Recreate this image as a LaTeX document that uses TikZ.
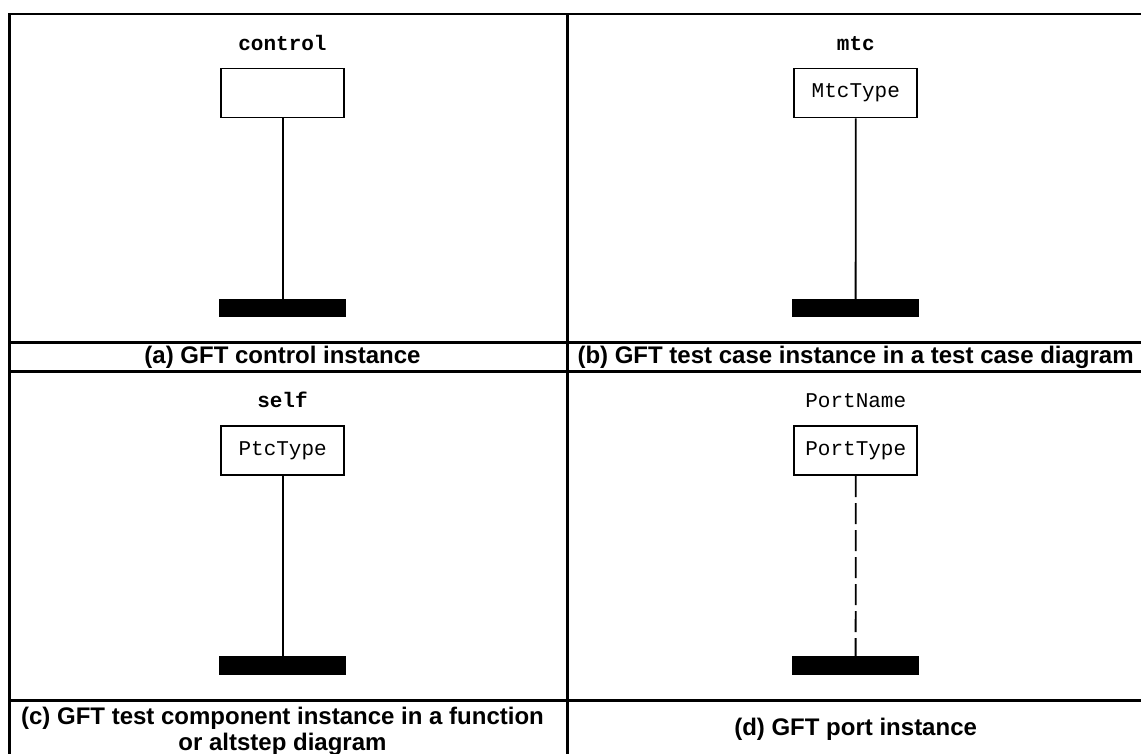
\documentclass[tikz,border=0pt]{standalone}
\usepackage{fontspec}
\setmainfont{Liberation Sans}
\newfontfamily\monof{Liberation Mono}
\begin{document}
\begin{tikzpicture}[x=1pt,y=-1pt,
  frame/.style={line width=2.5pt},
  instbox/.style={draw, line width=1.8pt, minimum width=123pt, minimum height=49pt, inner sep=0pt, font=\monof\fontsize{21}{24}\selectfont},
  endbar/.style={fill=black, minimum width=126.7pt, minimum height=18.3pt, inner sep=0pt},
  lifeline/.style={line width=1.8pt},
  portline/.style={line width=1.8pt, dash pattern=on 21pt off 6pt},
  instname/.style={anchor=base, inner sep=0pt, font=\monof\bfseries\fontsize{21}{24}\selectfont},
  portname/.style={anchor=base, inner sep=0pt, font=\monof\fontsize{21}{24}\selectfont},
  caption/.style={font=\bfseries\fontsize{24}{26}\selectfont, align=center, inner sep=0pt}]
\clip (0,0) rectangle (1141,753);
% table frame
\draw[frame] (9.5,800) -- (9.5,14) -- (1200,14);
\draw[frame] (567.7,14) -- (567.7,800);
\draw[frame] (9.5,342.7) -- (1200,342.7);
\draw[frame] (9.5,371.3) -- (1200,371.3);
\draw[frame] (9.5,700.7) -- (1200,700.7);
% (a) control
\node[instname] (nA) at (282.5,50) {control};
\node[instbox] (bA) at (282.7,93) {};
\node[endbar] (eA) at (282.7,308.2) {};
\draw[lifeline] (bA.south) -- (eA.north);
\node[caption] (cA) at (282.5,357) {(a) GFT control instance};
% (b) mtc
\node[instname] (nB) at (855.8,50) {mtc};
\node[instbox] (bB) at (855.8,93) {MtcType};
\node[endbar] (eB) at (855.6,308.2) {};
\draw[lifeline] (bB.south) -- (eB.north);
\node[caption] (cB) at (855.6,357) {(b) GFT test case instance in a test case diagram};
% (c) self
\node[instname] (nC) at (282.5,407) {self};
\node[instbox] (bC) at (282.7,450.8) {PtcType};
\node[endbar] (eC) at (282.7,665.5) {};
\draw[lifeline] (bC.south) -- (eC.north);
\node[caption] (cC) at (282.5,731) {(c) GFT test component instance in a function\\or altstep diagram};
% (d) port
\node[portname] (nD) at (855.8,407) {PortName};
\node[instbox] (bD) at (855.8,450.8) {PortType};
\node[endbar] (eD) at (855.6,665.5) {};
\draw[portline] (bD.south) -- (eD.north);
\node[caption] (cD) at (855.6,729) {(d) GFT port instance};
\end{tikzpicture}
\end{document}
